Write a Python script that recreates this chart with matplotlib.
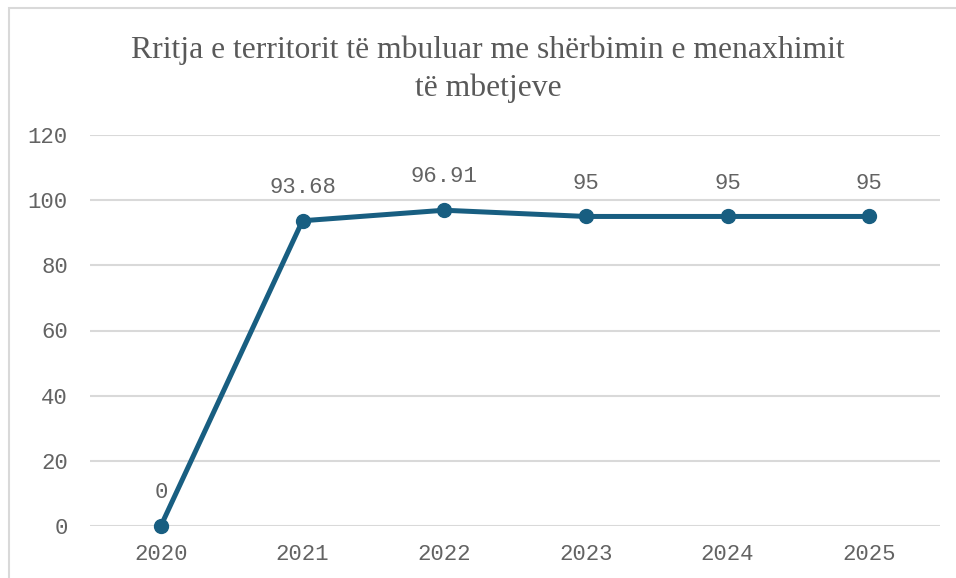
import matplotlib
matplotlib.use("Agg")
import matplotlib.pyplot as plt
from matplotlib.patches import Rectangle

years = ["2020", "2021", "2022", "2023", "2024", "2025"]
values = [0, 93.68, 96.91, 95, 95, 95]
labels = ["0", "93.68", "96.91", "95", "95", "95"]
yticks = [0, 20, 40, 60, 80, 100, 120]
title = "Rritja e territorit të mbuluar me shërbimin e menaxhimit\ntë mbetjeve"

W, H = 956, 578
fig = plt.figure(figsize=(W / 100, H / 100), dpi=100)
fig.patch.set_facecolor("white")

# outer chart border (only left/top visible in reference)
fig.patches.append(Rectangle((9 / W, -0.1), 1.2, 1 - 8 / H + 0.1, transform=fig.transFigure,
                             fill=False, edgecolor="#D9D9D9", linewidth=1.5, zorder=0))

ax = fig.add_axes([90 / W, 1 - 526 / H, (940 - 90) / W, (526 - 135) / H])
x = list(range(len(years)))
line_color = "#185E81"
ax.plot(x, values, color=line_color, linewidth=3.6, marker="o", markersize=10,
        solid_capstyle="round", zorder=3, clip_on=False)

mono = "Liberation Mono"
text_color = "#636363"
for xi, v, lab in zip(x, values, labels):
    ax.annotate(lab, (xi, v), xytext=(0, 24), textcoords="offset points",
                ha="center", va="center", fontsize=16, family=mono, color=text_color)

ax.set_xlim(-0.5, len(years) - 0.5)
ax.set_ylim(0, 120)
ax.set_yticks(yticks)
ax.set_xticks(x)
ax.set_xticklabels(years)
ax.grid(axis="y", color="#D9D9D9", linewidth=1.5, zorder=0)
ax.set_axisbelow(True)
for s in ax.spines.values():
    s.set_visible(False)
ax.tick_params(axis="both", length=0, labelsize=16, labelcolor=text_color)
ax.tick_params(axis="y", pad=16)
ax.tick_params(axis="x", pad=13)
for t in ax.get_xticklabels() + ax.get_yticklabels():
    t.set_family(mono)

fig.text(488 / W, 1 - 69 / H, title, ha="center", va="center", fontsize=22.8,
         family="Liberation Serif", color="#595959", linespacing=1.37)

fig.savefig("out.png", dpi=100, facecolor="white")
